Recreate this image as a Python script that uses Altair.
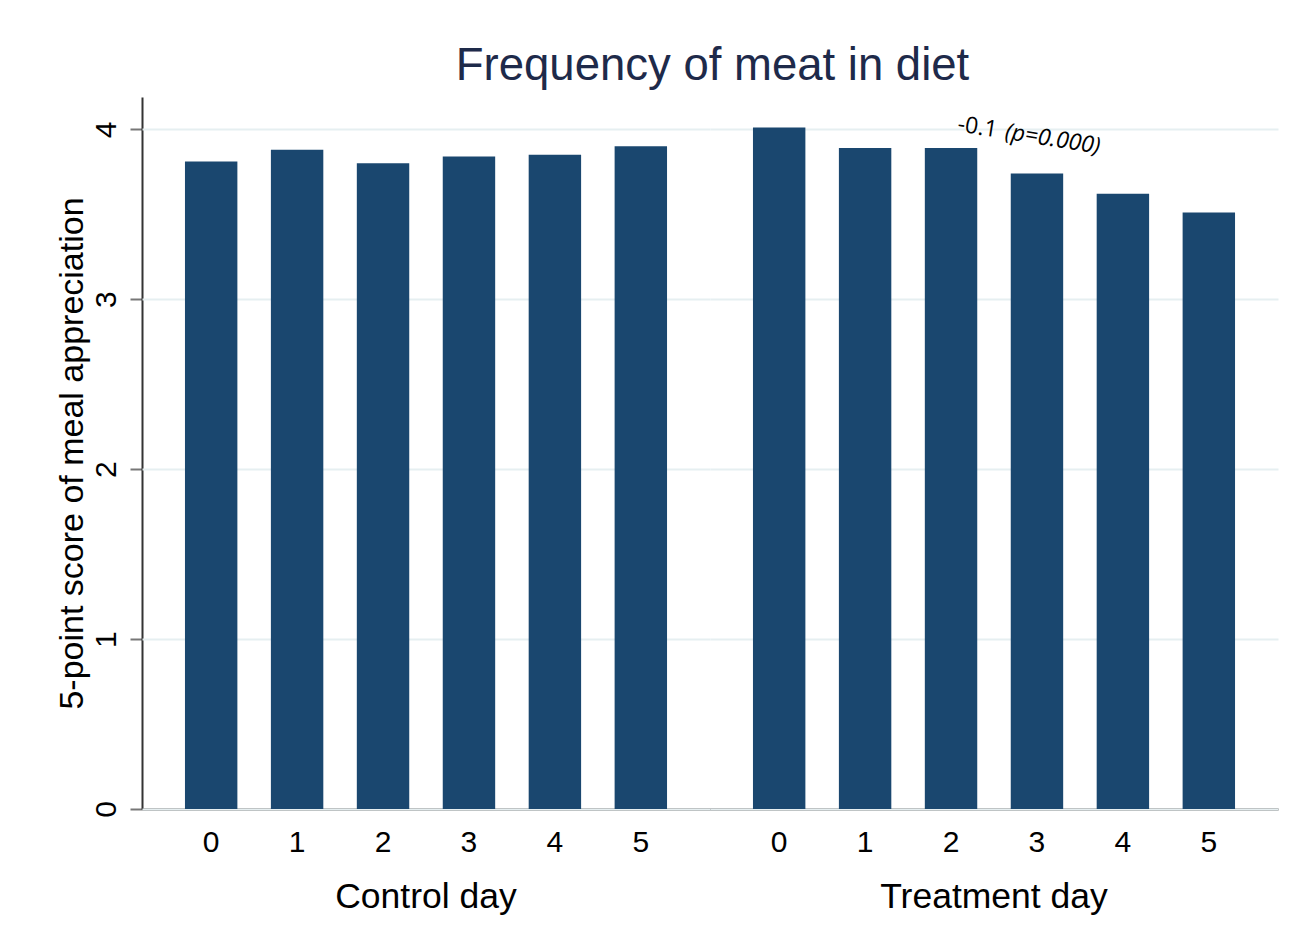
import altair as alt
import pandas as pd

# ---- data ----
groups = ["Control day"] * 6 + ["Treatment day"] * 6
days = ["0", "1", "2", "3", "4", "5"] * 2
values = [3.81, 3.88, 3.80, 3.84, 3.85, 3.90,
          4.01, 3.89, 3.89, 3.74, 3.62, 3.51]
anno_plain = ["", "", "", "", "", "", "", "", "-0.1", "", "", ""]
anno_italic = ["", "", "", "", "", "", "", "", "(p=0.000)", "", "", ""]
y_ticks = [0, 1, 2, 3, 4]

df = pd.DataFrame({"group": groups, "day": days, "value": values,
                   "a1": anno_plain, "a2": anno_italic})

FONT = "Liberation Sans"
BAR = "#1a476f"

x_enc = alt.X(
    "day:O", title=None,
    scale=alt.Scale(paddingInner=0.39, paddingOuter=0.5),
    axis=alt.Axis(labelAngle=0, labelFontSize=30, labelFont=FONT, labelColor="#000000",
                  ticks=False, domainColor="#333333", domainWidth=2, labelPadding=18,
                  grid=False),
)
y_enc = alt.Y(
    "value:Q", title="5-point score of meal appreciation",
    scale=alt.Scale(domain=[0, 4.19], nice=False, zero=True),
    axis=alt.Axis(values=y_ticks, format="d", labelAngle=270, labelFontSize=30,
                  labelFont=FONT, labelColor="#000000", gridColor="#e6eff1", gridWidth=2,
                  tickSize=12, tickColor="#777777", tickWidth=2,
                  domainColor="#333333", domainWidth=2,
                  titleFontSize=34, titleFont=FONT, titleFontWeight="normal",
                  titleColor="#000000", titlePadding=2, labelPadding=9),
)

bars = alt.Chart().mark_bar(color=BAR).encode(x=x_enc, y=y_enc)

t1 = alt.Chart().mark_text(
    align="left", baseline="middle", angle=9, dx=6, dy=-6,
    font="Open Sans", fontSize=23, color="#000000"
).encode(x="day:O", y=alt.datum(4), text="a1:N").transform_filter("datum.a1 != ''")

t2 = alt.Chart().mark_text(
    align="left", baseline="middle", angle=9, dx=54, dy=-6,
    font="Open Sans", fontSize=23, fontStyle="italic", color="#000000"
).encode(x="day:O", y=alt.datum(4), text="a2:N").transform_filter("datum.a2 != ''")

layer = alt.layer(bars, t1, t2).properties(width=568, height=712)

chart = layer.facet(
    data=df,
    column=alt.Column("group:N", title=None, sort=["Control day", "Treatment day"],
                      header=alt.Header(labelOrient="bottom", labelFontSize=35.5,
                                        labelFont=FONT, labelColor="#000000",
                                        labelPadding=23)),
    spacing=0,
).properties(
    title=alt.TitleParams("Frequency of meat in diet", fontSize=45.5, font=FONT,
                          fontWeight="normal", color="#1e2a4a", anchor="middle",
                          offset=8, dx=46),
    padding={"left": 47, "top": 35, "right": 5, "bottom": 5},
    background="#ffffff",
).configure_view(stroke=None).configure_facet(spacing=0)

chart.save("out.html", embed_options={"renderer": "svg", "actions": False})
